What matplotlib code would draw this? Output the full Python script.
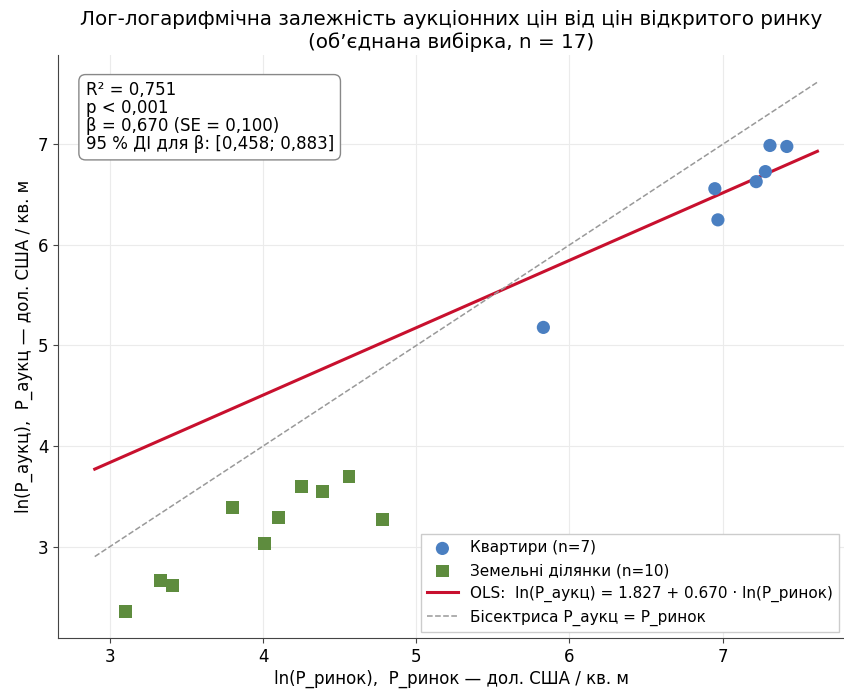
import numpy as np
import matplotlib
matplotlib.use("Agg")
import matplotlib.pyplot as plt

plt.rcParams['font.family'] = ['DejaVu Sans']

# Apartments (Квартири)
apt_x = [5.83, 6.95, 6.97, 7.22, 7.28, 7.31, 7.42]
apt_y = [5.18, 6.56, 6.25, 6.63, 6.73, 6.99, 6.98]

# Land plots (Земельні ділянки)
land_x = [3.10, 3.33, 3.41, 3.80, 4.01, 4.10, 4.25, 4.39, 4.56, 4.78]
land_y = [2.355, 2.66, 2.61, 3.39, 3.03, 3.29, 3.60, 3.55, 3.70, 3.27]

# OLS coefficients
ols_intercept = 1.827
ols_slope = 0.670

stats_lines = [
    "R² = 0,751",
    "p < 0,001",
    "β = 0,670 (SE = 0,100)",
    "95 % ДІ для β: [0,458; 0,883]",
]

title = "Лог-логарифмічна залежність аукціонних цін від цін відкритого ринку\n(об’єднана вибірка, n = 17)"
xlabel = "ln(P_ринок),  P_ринок — дол. США / кв. м"
ylabel = "ln(P_аукц),  P_аукц — дол. США / кв. м"

fig = plt.figure(figsize=(8.45, 6.96), dpi=100)
ax = fig.add_axes([58/845, 58/696, 1 - 58/845, (638-55)/696])

all_x = np.array(apt_x + land_x)
xs = np.linspace(all_x.min() - 0.2, all_x.max() + 0.2, 100)

ax.grid(True, color='#ebebeb', linewidth=0.8)
ax.set_axisbelow(True)

ax.scatter(apt_x, apt_y, s=90, marker='o', color='#4a7fc1', edgecolor='none',
           label='Квартири (n=7)', zorder=3)
ax.scatter(land_x, land_y, s=85, marker='s', color='#5e8c3e', edgecolor='none',
           label='Земельні ділянки (n=10)', zorder=3)
ax.plot(xs, ols_intercept + ols_slope * xs, color='#c8102e', linewidth=2.2,
        label='OLS:  ln(P_аукц) = 1.827 + 0.670 · ln(P_ринок)', zorder=2)
ax.plot(xs, xs, color='#999999', linestyle='--', linewidth=1.1,
        label='Бісектриса P_аукц = P_ринок', zorder=2)

ax.set_xlim(2.66, 7.80)
ax.set_ylim(2.09, 7.89)
ax.set_xticks([3, 4, 5, 6, 7])
ax.set_yticks([3, 4, 5, 6, 7])
ax.tick_params(labelsize=12, color='#444444')

for s in ['top', 'right']:
    ax.spines[s].set_visible(False)
for s in ['left', 'bottom']:
    ax.spines[s].set_color('#444444')

ax.set_title(title, fontsize=14.3, pad=5)
ax.set_xlabel(xlabel, fontsize=12, labelpad=3)
ax.set_ylabel(ylabel, fontsize=12, labelpad=3)

ax.text(0.035, 0.955, "\n".join(stats_lines), transform=ax.transAxes,
        fontsize=12, va='top', ha='left', linespacing=1.0,
        bbox=dict(boxstyle='round,pad=0.4', facecolor='white', edgecolor='#888888'))

ax.legend(loc='lower right', fontsize=11, frameon=True, framealpha=1.0,
          edgecolor='#cccccc', fancybox=False, borderaxespad=0.4)

fig.savefig('out.png', dpi=100)
